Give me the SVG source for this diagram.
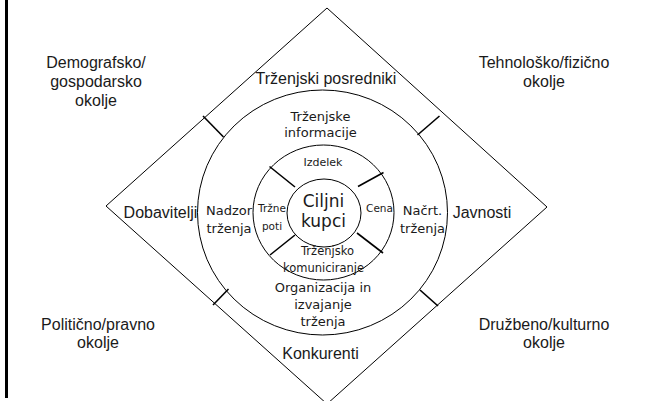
<svg xmlns="http://www.w3.org/2000/svg" width="653" height="401" viewBox="0 0 653 401">
<style>
.ln{fill:none;stroke:#000;stroke-width:1}
.sp{fill:none;stroke:#000;stroke-width:1.6}
.o{font-family:"Liberation Sans",Arial,sans-serif;font-size:16px;fill:#1a1a1a;text-anchor:middle}
.i{font-family:"DejaVu Sans",Verdana,sans-serif;fill:#1a1a1a;text-anchor:middle}
</style>
<rect x="0" y="0" width="653" height="401" fill="#fff"/>
<rect id="border" x="5" y="0" width="3" height="398" fill="#000"/>
<g id="shapes">
<polygon id="diamond" class="ln" points="327,8 547,207 327,404 106,206"/>
<ellipse id="outer-circle" class="ln" cx="322.5" cy="212.5" rx="125" ry="122.5"/>
<ellipse id="middle-circle" class="ln" cx="323.5" cy="212.5" rx="70.5" ry="67.5"/>
<ellipse id="inner-circle" class="ln" cx="324" cy="213" rx="37" ry="34"/>
</g>
<g id="connectors">
<line class="sp" x1="203" y1="116" x2="223.5" y2="137"/>
<line class="sp" x1="439.5" y1="116" x2="417.5" y2="135"/>
<line class="sp" x1="213" y1="305" x2="228.5" y2="289"/>
<line class="sp" x1="420" y1="290" x2="438" y2="306"/>
<line class="sp" x1="269.5" y1="166.5" x2="295" y2="187"/>
<line class="sp" x1="383.5" y1="172.5" x2="358" y2="186.5"/>
<line class="sp" x1="270" y1="255" x2="295" y2="235"/>
<line class="sp" x1="357" y1="233" x2="383" y2="253"/>
</g>
<g id="env-demografsko"><text class="o" x="96" y="68">Demografsko/</text><text class="o" x="96" y="87">gospodarsko</text><text class="o" x="96" y="106">okolje</text></g>
<g id="env-tehnolosko"><text class="o" x="544" y="68">Tehnološko/fizično</text><text class="o" x="544" y="87">okolje</text></g>
<g id="env-politicno"><text class="o" x="98" y="330">Politično/pravno</text><text class="o" x="98" y="348">okolje</text></g>
<g id="env-druzbeno"><text class="o" x="544" y="330">Družbeno/kulturno</text><text class="o" x="544" y="348">okolje</text></g>
<g id="posredniki"><text class="o" x="326" y="84">Trženjski posredniki</text></g>
<g id="dobavitelji"><text class="o" x="160.5" y="218">Dobavitelji</text></g>
<g id="javnosti"><text class="o" x="482" y="218">Javnosti</text></g>
<g id="konkurenti"><text class="o" x="320.5" y="359">Konkurenti</text></g>
<g id="informacije"><text class="i" font-size="13" x="320.5" y="121">Trženjske</text><text class="i" font-size="13" x="320.5" y="137">informacije</text></g>
<g id="nadzor"><text class="i" font-size="13" x="229" y="215">Nadzor</text><text class="i" font-size="13" x="229" y="233">trženja</text></g>
<g id="nacrt"><text class="i" font-size="13" x="422.5" y="215">Načrt.</text><text class="i" font-size="13" x="422.5" y="233">trženja</text></g>
<g id="organizacija"><text class="i" font-size="13" x="323" y="292">Organizacija in</text><text class="i" font-size="13" x="323" y="309">izvajanje</text><text class="i" font-size="13" x="323" y="326">trženja</text></g>
<g id="izdelek"><text class="i" font-size="11" x="323" y="166">Izdelek</text></g>
<g id="cena"><text class="i" font-size="10.5" x="379.5" y="212">Cena</text></g>
<g id="trzne-poti"><text class="i" font-size="10.5" x="272" y="212">Tržne</text><text class="i" font-size="10.5" x="272" y="230">poti</text></g>
<g id="komuniciranje"><text class="i" font-size="11.5" x="327.5" y="255">Trženjsko</text><text class="i" font-size="11.5" x="323.5" y="272">komuniciranje</text></g>
<g id="ciljni-kupci"><text class="i" font-size="17" x="323.5" y="207">Ciljni</text><text class="i" font-size="17" x="323.5" y="227">kupci</text></g>
</svg>
